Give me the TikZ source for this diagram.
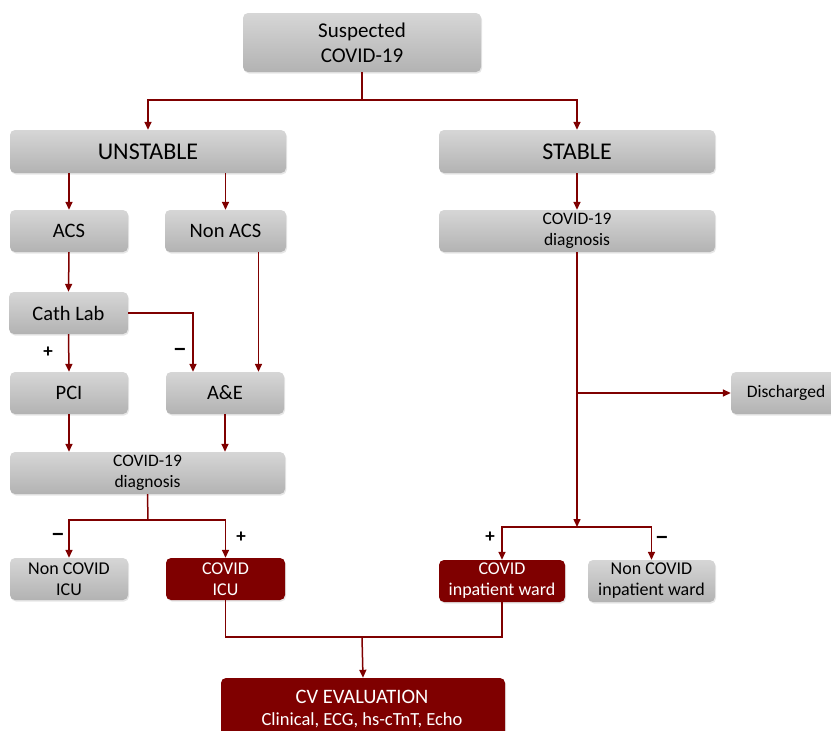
\documentclass[tikz,border=0pt]{standalone}
\usepackage{fontspec}
\usepackage{graphicx}
\setmainfont{Carlito}
\usetikzlibrary{arrows.meta,shadows}
\definecolor{dred}{HTML}{7F0000}
\newcommand{\mydash}{\scalebox{1.5}[1.3]{\textendash}}
\begin{document}
\begin{tikzpicture}[x=1pt,y=-1pt,
 gbox/.style={rounded corners=5pt, top color=black!16, bottom color=black!30, draw=none, inner sep=0pt, align=center,
   drop shadow={shadow xshift=1pt,shadow yshift=-1.5pt,opacity=0.2}},
 rbox/.style={rounded corners=5pt, fill=dred, text=white, draw=none, inner sep=0pt, align=center,
   drop shadow={shadow xshift=1pt,shadow yshift=-1.5pt,opacity=0.2}},
 arr/.style={draw=dred, line width=1.5pt, -{Triangle[width=7pt,length=8pt]}},
 ln/.style={draw=dred, line width=1.5pt},
 lab/.style={font=\fontsize{19}{19}\selectfont\bfseries, inner sep=0pt},
 big/.style={font=\fontsize{24}{28}\selectfont},
 mid/.style={font=\fontsize{20.5}{24}\selectfont},
 sml/.style={font=\fontsize{17.5}{21}\selectfont},
 sm2/.style={font=\fontsize{18}{21}\selectfont}]
\useasboundingbox (0,0) rectangle (831,731);
\begin{scope}
\clip (0,0) rectangle (831,731);
\node[gbox, minimum width=238pt, minimum height=59pt, font=\fontsize{21}{25}\selectfont] (sus) at (362,42.5) {Suspected\\COVID-19};
\node[gbox, big, minimum width=276pt, minimum height=43pt] (uns) at (148,151.5) {UNSTABLE};
\node[gbox, big, minimum width=276pt, minimum height=43pt] (sta) at (577,151.5) {STABLE};
\node[gbox, mid, minimum width=118pt, minimum height=42pt] (acs) at (69,231) {ACS};
\node[gbox, mid, minimum width=121pt, minimum height=42pt] (nacs) at (225.5,231) {Non ACS};
\node[gbox, sml, minimum width=276pt, minimum height=42pt] (dgr) at (577,231) {COVID-19\\diagnosis};
\node[gbox, mid, minimum width=119pt, minimum height=42pt] (cath) at (68.5,313) {Cath Lab};
\node[gbox, mid, minimum width=118pt, minimum height=42pt] (pci) at (69,393) {PCI};
\node[gbox, mid, minimum width=118pt, minimum height=42pt] (ae) at (225,393) {A\&E};
\node[gbox, minimum width=110pt, minimum height=42pt] (dis) at (786,393) {};
\node[font=\fontsize{17.5}{20}\selectfont, inner sep=0pt] (dist) at (786,393) {Discharged};
\node[gbox, sml, minimum width=275pt, minimum height=42pt] (dgl) at (147.5,473) {COVID-19\\diagnosis};
\node[gbox, sm2, minimum width=118pt, minimum height=42pt] (ncicu) at (69,579) {Non COVID\\ICU};
\node[rbox, sm2, minimum width=119pt, minimum height=42pt] (cicu) at (225.5,579) {COVID\\ICU};
\node[rbox, sm2, minimum width=126pt, minimum height=42pt] (cw) at (502,581) {COVID\\inpatient ward};
\node[gbox, sm2, minimum width=127pt, minimum height=42pt] (ncw) at (651.5,581) {Non COVID\\inpatient ward};
\node[rbox, minimum width=284pt, minimum height=66pt] (cv) at (363,711) {};
\node[text=white, inner sep=0pt, font=\fontsize{20.5}{24}\selectfont] (cvt1) at (362,697) {CV EVALUATION};
\node[text=white, inner sep=0pt, font=\fontsize{18.5}{22}\selectfont] (cvt2) at (362,720) {Clinical, ECG, hs-cTnT, Echo};
\end{scope}

\draw[ln] (sus.south) -- (362,100) coordinate (j1);
\draw[arr] (j1) -| (uns.north);
\draw[arr] (j1) -| (sta.north);
\draw[arr] (uns.south -| acs.north) -- (acs.north);
\draw[arr] (uns.south -| nacs.north) -- (nacs.north);
\draw[arr] (sta.south) -- (dgr.north);
\draw[arr] (acs.south) -- (cath.north);
\draw[arr] (cath.east) -| ([xshift=-32pt]ae.north);
\draw[arr] ([xshift=33pt]nacs.south) -- ([xshift=33pt]nacs.south |- ae.north);
\draw[arr] (cath.south) -- (pci.north);
\draw[arr] (pci.south) -- (pci.south |- dgl.north);
\draw[arr] (ae.south) -- (ae.south |- dgl.north);
\draw[ln] (dgl.south) -- (148,520) coordinate (j2);
\draw[arr] (j2) -| (ncicu.north);
\draw[arr] (j2) -| (cicu.north);
\coordinate (j3) at (dgr.south |- dis.west);
\draw[arr] (j3) -- (dis.west);
\coordinate (j4) at (577,527);
\draw[arr] (dgr.south) -- (j4);
\draw[arr] (j4) -| (cw.north);
\draw[arr] (j4) -| (ncw.north);
\coordinate (j5) at (362,637);
\draw[ln] (cicu.south) |- (j5);
\draw[ln] (cw.south) |- (j5);
\draw[arr] (j5) -- (cv.north);

\node[lab] (p1) at (48,352) {+};
\node[lab] (m1) at (180,352) {\mydash};
\node[lab] (m2) at (58,537) {\mydash};
\node[lab] (p2) at (241,537) {+};
\node[lab] (p3) at (490,537) {+};
\node[lab] (m3) at (662,540) {\mydash};
\end{tikzpicture}
\end{document}
